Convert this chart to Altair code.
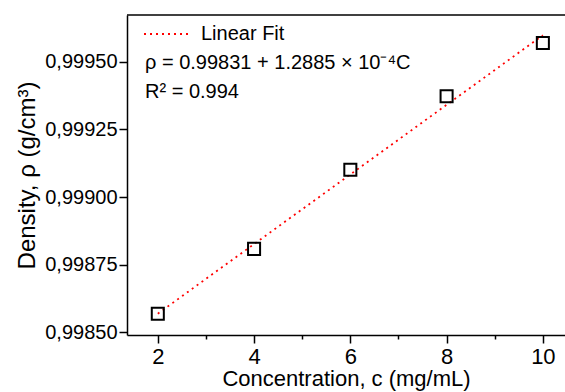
import altair as alt
import pandas as pd

conc = [2, 4, 6, 8, 10]
density = [0.998568, 0.998808, 0.999101, 0.999373, 0.999570]
fit_x = [2, 10]
fit_y = [0.998568, 0.999599]
x_ticks = [2, 3, 4, 5, 6, 7, 8, 9, 10]
y_ticks = [0.99850, 0.998625, 0.99875, 0.998875, 0.99900, 0.999125, 0.99925, 0.999375, 0.99950, 0.999625]
legend_label = "Linear Fit"
eq_text = "ρ = 0.99831 + 1.2885 × 10⁻⁴C"
r2_text = "R² = 0.994"

pts = pd.DataFrame({"c": conc, "rho": density})
fit = pd.DataFrame({"c": fit_x, "rho": fit_y})

FONT = "Liberation Sans"
W, H = 438, 320
xscale = alt.Scale(domain=[1.36, 10.46], nice=False, zero=False)
yscale = alt.Scale(domain=[0.998489, 0.999674], nice=False, zero=False)

x_major = "abs(datum.value/2 - round(datum.value/2)) < 0.01"
y_major = "abs(datum.value*4000 - round(datum.value*4000)) < 0.1"

xaxis = alt.Axis(
    values=x_ticks,
    title="Concentration, c (mg/mL)",
    labelExpr=f"({x_major}) ? format(datum.value, 'd') : ''",
    tickSize={"condition": {"test": x_major, "value": 8}, "value": 4},
    grid=False,
    labelFontSize=22,
    labelPadding=3,
    titlePadding=1,
    titleFontSize=22,
)
yaxis = alt.Axis(
    values=y_ticks,
    title="Density, ρ (g/cm³)",
    labelExpr=f"({y_major}) ? replace(format(datum.value, '.5f'), '.', ',') : ''",
    tickSize={"condition": {"test": y_major, "value": 8}, "value": 4},
    grid=False,
    labelFontSize=20,
    labelPadding=2,
    titlePadding=5,
    titleFontSize=24,
)

line = alt.Chart(fit).mark_line(color="red", strokeDash=[2, 4], strokeWidth=1.8).encode(
    x=alt.X("c:Q", scale=xscale, axis=xaxis),
    y=alt.Y("rho:Q", scale=yscale, axis=yaxis),
)
points = alt.Chart(pts).mark_point(shape="square", size=145, filled=False, color="black", strokeWidth=2, opacity=1).encode(
    x=alt.X("c:Q", scale=xscale),
    y=alt.Y("rho:Q", scale=yscale),
)

top_border = alt.Chart(pd.DataFrame({"a": [0]})).mark_rule(color="black", strokeWidth=1.5).encode(
    x=alt.value(0), x2=alt.value(W), y=alt.value(0)
)
leg_line = alt.Chart(pd.DataFrame({"a": [0]})).mark_rule(color="red", strokeDash=[2, 4], strokeWidth=1.8).encode(
    x=alt.value(17), x2=alt.value(62), y=alt.value(19)
)
leg_text = alt.Chart(pd.DataFrame({"t": [legend_label]})).mark_text(
    align="left", baseline="middle", font=FONT, fontSize=20, color="black"
).encode(x=alt.value(74), y=alt.value(19), text="t:N")
eq = alt.Chart(pd.DataFrame({"t": [eq_text]})).mark_text(
    align="left", baseline="middle", font=FONT, fontSize=20, color="black"
).encode(x=alt.value(18), y=alt.value(48), text="t:N")
r2 = alt.Chart(pd.DataFrame({"t": [r2_text]})).mark_text(
    align="left", baseline="middle", font=FONT, fontSize=20, color="black"
).encode(x=alt.value(18), y=alt.value(77), text="t:N")

chart = alt.layer(line, points, top_border, leg_line, leg_text, eq, r2).properties(
    width=W, height=H,
    background="white",
    autosize=alt.AutoSizeParams(type="none"),
    padding={"left": 127, "top": 15, "right": 0, "bottom": 57},
).configure_view(stroke=None).configure_axis(
    domainColor="black", domainWidth=1.5, tickColor="black", tickWidth=1.5,
    labelFont=FONT, labelColor="black",
    titleFont=FONT, titleColor="black", titleFontWeight="normal",
)

chart.save("out.html", embed_options={"renderer": "svg", "actions": False})
